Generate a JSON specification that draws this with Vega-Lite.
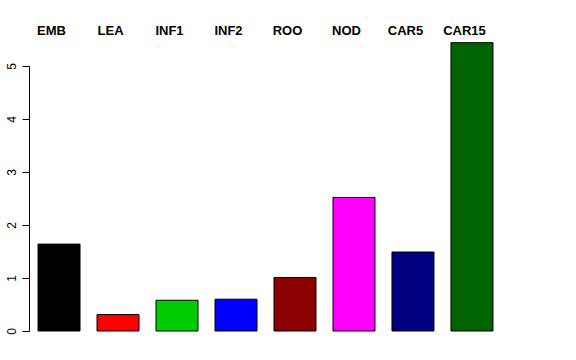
{
  "$schema": "https://vega.github.io/schema/vega-lite/v6.json",
  "autosize": {"type": "none"},
  "width": 473,
  "height": 265,
  "padding": {"left": 29, "top": 66, "right": 74, "bottom": 29},
  "background": "white",
  "config": {"view": {"stroke": null}, "font": "Liberation Sans"},
  "data": {"values": [
    {"tissue": "EMB", "value": 1.64, "color": "#000000"},
    {"tissue": "LEA", "value": 0.31, "color": "#FF0000"},
    {"tissue": "INF1", "value": 0.58, "color": "#00CD00"},
    {"tissue": "INF2", "value": 0.60, "color": "#0000FF"},
    {"tissue": "ROO", "value": 1.01, "color": "#8B0000"},
    {"tissue": "NOD", "value": 2.52, "color": "#FF00FF"},
    {"tissue": "CAR5", "value": 1.49, "color": "#000080"},
    {"tissue": "CAR15", "value": 5.44, "color": "#006400"}
  ]},
  "encoding": {
    "x": {
      "field": "tissue", "type": "nominal", "sort": null,
      "scale": {"paddingInner": 0.288, "paddingOuter": 0.153},
      "axis": null
    }
  },
  "layer": [
    {
      "mark": {"type": "bar", "stroke": "#000000", "strokeWidth": 1, "clip": false},
      "encoding": {
        "y": {
          "field": "value", "type": "quantitative",
          "scale": {"domain": [0, 5], "nice": false, "zero": true},
          "axis": {
            "title": null, "grid": false, "values": [0, 1, 2, 3, 4, 5],
            "domainColor": "#000000", "tickColor": "#000000", "tickSize": 7,
            "labelAngle": -90, "labelAlign": "center", "labelBaseline": "bottom",
            "labelPadding": 4, "labelFontSize": 12, "labelColor": "#000000"
          }
        },
        "y2": {"datum": 0},
        "fill": {"field": "color", "type": "nominal", "scale": null, "legend": null}
      }
    },
    {
      "mark": {"type": "text", "fontWeight": "bold", "fontSize": 13, "color": "#000000", "baseline": "alphabetic", "align": "center", "dx": -7.5, "clip": false},
      "encoding": {
        "y": {"datum": 5.585},
        "text": {"field": "tissue"}
      }
    }
  ]
}
